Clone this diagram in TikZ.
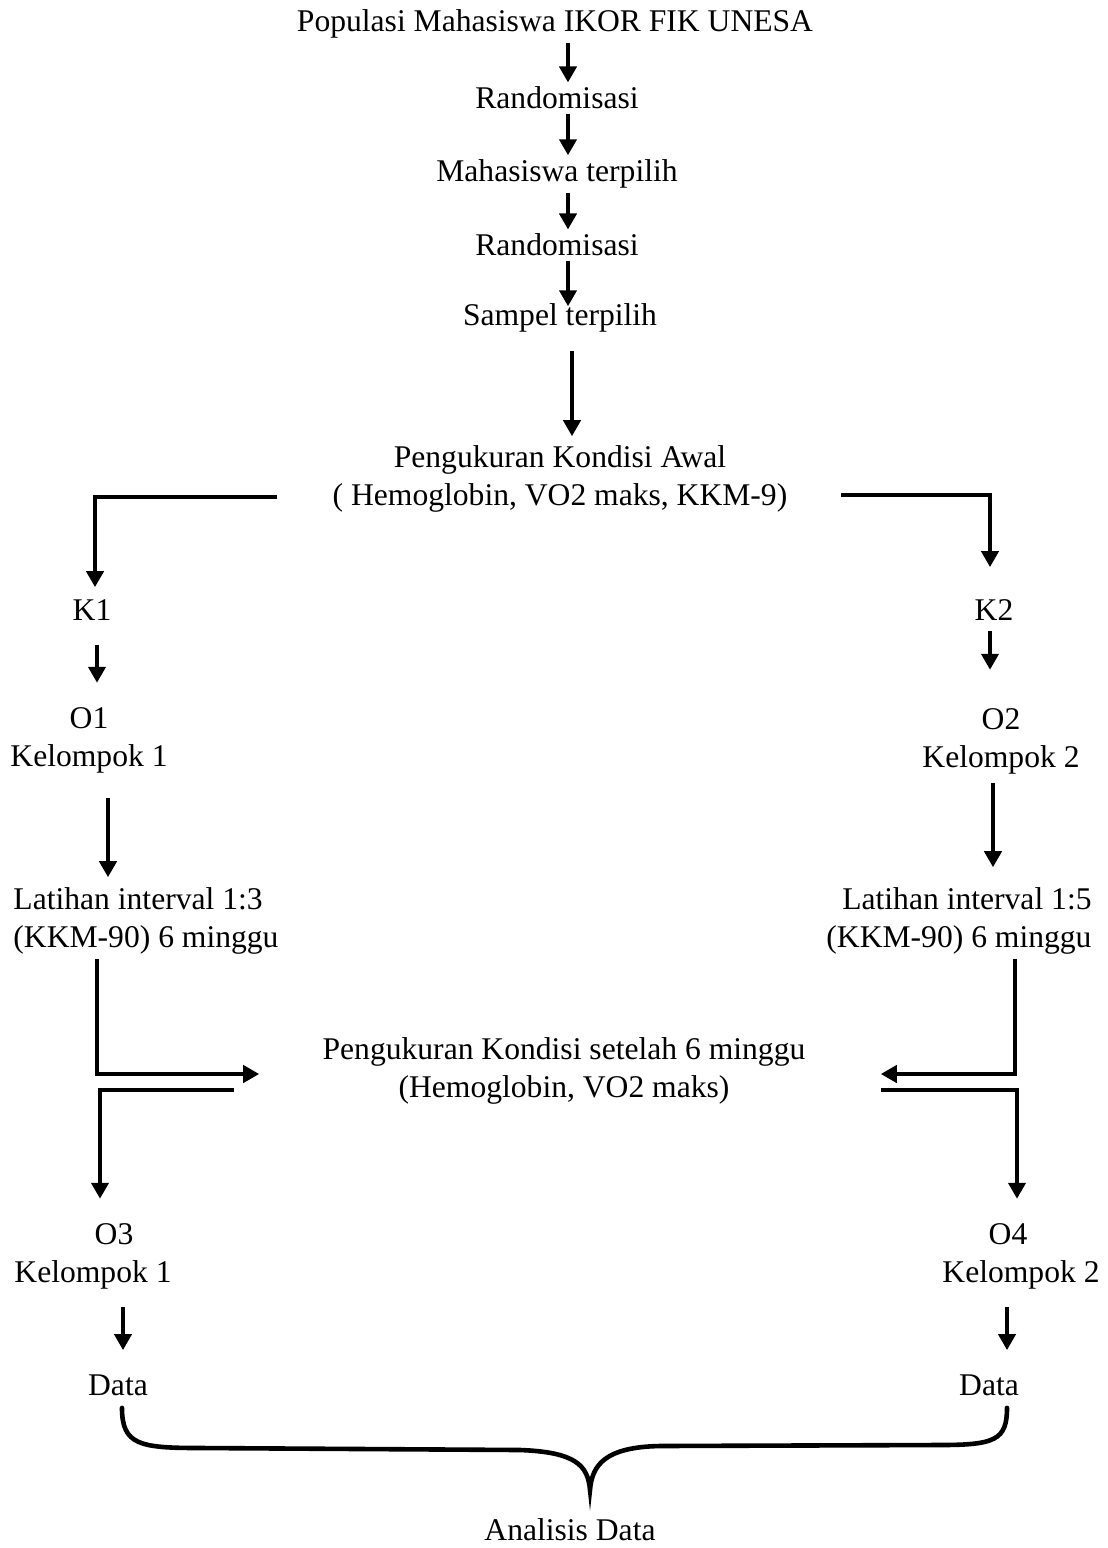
\documentclass[tikz,border=0pt]{standalone}
\usepackage{fontspec}
\setmainfont{Liberation Serif}
\usetikzlibrary{arrows.meta}
\begin{document}
\begin{tikzpicture}[x=0.5pt, y=-0.5pt,
  every node/.style={font=\fontsize{15.8}{19}\selectfont, align=center, inner sep=2pt},
  arr/.style={line width=2.4pt, -{Triangle[width=8.5pt,length=8pt]}},
  brace/.style={line width=2.3pt, line cap=round}]
  \useasboundingbox (0,0) rectangle (1108,1548);
  % top chain
  \coordinate (axis) at (568,0); \coordinate (axis2) at (572,0);
  \node (pop) at (555,24) {Populasi Mahasiswa IKOR FIK UNESA};
  \node (rand1) at (557,98) {Randomisasi};
  \node (maha) at (557,174) {Mahasiswa terpilih};
  \node (rand2) at (557,245) {Randomisasi};
  \node (sampel) at (560,318) {Sampel terpilih};
  \node (awal) at (560,479) {Pengukuran Kondisi Awal\\( Hemoglobin, VO2 maks, KKM-9)};
  \draw[arr] (pop.south -| axis) -- (rand1.north -| axis);
  \draw[arr] (rand1.south -| axis) -- (maha.north -| axis);
  \draw[arr] (maha.south -| axis) -- (rand2.north -| axis);
  \draw[arr, shorten >=-3.5pt] (rand2.south -| axis) -- (sampel.north -| axis);
  \draw[arr, shorten <=7pt, shorten >=2.5pt] (sampel.south -| axis2) -- (awal.north -| axis2);
  % two groups
  \node (k1) at (92,610) {K1}; \node (k2) at (994,610) {K2};
  \node (o1) at (89,740) {O1\\Kelompok 1}; \node (o2) at (1001,741) {O2\\Kelompok 2};
  \node[align=left] (lat1) at (146,921) {Latihan interval 1:3\\(KKM-90) 6 minggu};
  \node[align=right] (lat2) at (959,921) {Latihan interval 1:5\\(KKM-90) 6 minggu};
  \draw[arr, shorten >=4pt] ([xshift=-25.5pt,yshift=-9pt]awal.west) -| ([xshift=1.5pt]k1.north);
  \draw[arr, shorten >=14pt] ([xshift=24.5pt,yshift=-8pt]awal.east) -| ([xshift=-2pt]k2.north);
  \draw[arr, shorten <=10pt, shorten >=10pt] ([xshift=2.5pt]k1.south) -- ([xshift=2.5pt]k1.south |- o1.north);
  \draw[arr, shorten <=3pt, shorten >=17pt] ([xshift=-2pt]k2.south) -- ([xshift=-2pt]k2.south |- o2.north);
  \draw[arr, shorten <=10.5pt, shorten >=3pt] ([xshift=9.5pt]o1.south) -- ([xshift=9.5pt]o1.south |- lat1.north);
  \draw[arr, shorten <=2.5pt, shorten >=8pt] ([xshift=-4pt]o2.south) -- ([xshift=-4pt]o2.south |- lat2.north);
  % second measurement
  \node (akhir) at (564,1071) {Pengukuran Kondisi setelah 6 minggu\\(Hemoglobin, VO2 maks)};
  \node (o3) at (93,1256) {\hspace*{21pt}O3\\Kelompok 1};
  \node (o4) at (1021,1256) {O4\hspace*{13pt}\\Kelompok 2};
  \draw[arr] ([xshift=-24.5pt]lat1.south) |- ([xshift=-29.5pt,yshift=-1.5pt]akhir.west);
  \draw[arr, shorten >=10pt] ([xshift=-42pt,yshift=-9.5pt]akhir.west) -| ([xshift=3.5pt]o3.north);
  \draw[arr] ([xshift=28pt]lat2.south) |- ([xshift=35.5pt,yshift=-1.5pt]akhir.east);
  \draw[arr, shorten >=10pt] ([xshift=35.5pt,yshift=-9.5pt]akhir.east) -| ([xshift=-2pt]o4.north);
  % data and analysis
  \node (data1) at (118,1385) {Data}; \node (data2) at (989,1385) {Data};
  \node (analisis) at (570,1530) {Analisis Data};
  \draw[arr, shorten <=7pt, shorten >=10pt] ([xshift=2.5pt]data1.north |- o3.south) -- ([xshift=2.5pt]data1.north);
  \draw[arr, shorten <=7pt, shorten >=10pt] ([xshift=9pt]data2.north |- o4.south) -- ([xshift=9pt]data2.north);
  \coordinate (tip) at (590,1490);
  \draw[brace] ([xshift=2pt,yshift=-4pt]data1.south) .. controls (122,1445) and (140,1448) .. (200,1448)
    -- (520,1450) .. controls (575,1452) and (588,1465) .. (tip)
    .. controls (592,1465) and (605,1447) .. (660,1446) -- (940,1445)
    .. controls (995,1445) and (1007,1440) .. ([xshift=9pt,yshift=-4pt]data2.south);
\end{tikzpicture}
\end{document}
